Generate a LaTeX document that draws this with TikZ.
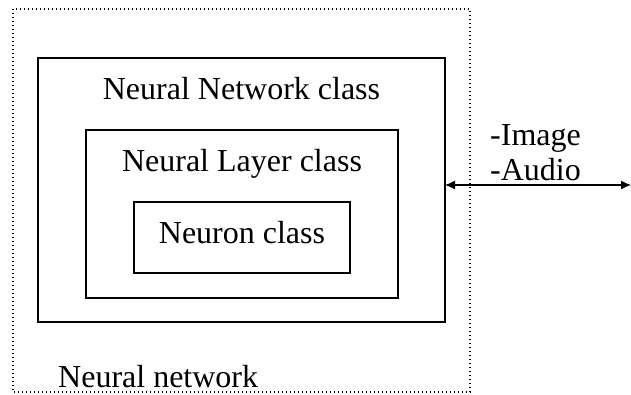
\documentclass[tikz,border=0pt]{standalone}
\usepackage{fontspec}
\setmainfont{Liberation Serif}
\usetikzlibrary{arrows.meta}
\begin{document}
\begin{tikzpicture}[x=1pt,y=-1pt,
  classbox/.style={draw,line width=1.3pt},
  framebox/.style={draw,line width=1.4pt,dash pattern=on 1.4pt off 2.6pt},
  label/.style={font=\fontsize{32}{37}\selectfont,inner sep=0pt,anchor=base},
  link/.style={line width=1.2pt,{Latex[length=10pt,width=9pt]}-{Latex[length=10pt,width=9pt]}}]
  \useasboundingbox (0,0) rectangle (631,394);
  % dotted system boundary
  \draw[framebox] (13,9) rectangle (470,392);
  % nested class boxes
  \draw[classbox] (38,58) rectangle (445,322);
  \draw[classbox] (86,130) rectangle (398,298);
  \draw[classbox] (134,202) rectangle (350,273);
  \coordinate (netR) at (445,185);
  \coordinate (outR) at (631,185);
  \node[label] (netT) at (241.5,99) {Neural Network class};
  \node[label] (layT) at (242,171) {Neural Layer class};
  \node[label] (neuT) at (242,243) {Neuron class};
  \node[label,anchor=base west] (sysT) at (58,387) {Neural network};
  \node[label,anchor=base west] (imgT) at (490,145) {-Image};
  \node[label,anchor=base west] (audT) at (490,180) {-Audio};
  \draw[link] (netR) -- (outR);
\end{tikzpicture}
\end{document}
